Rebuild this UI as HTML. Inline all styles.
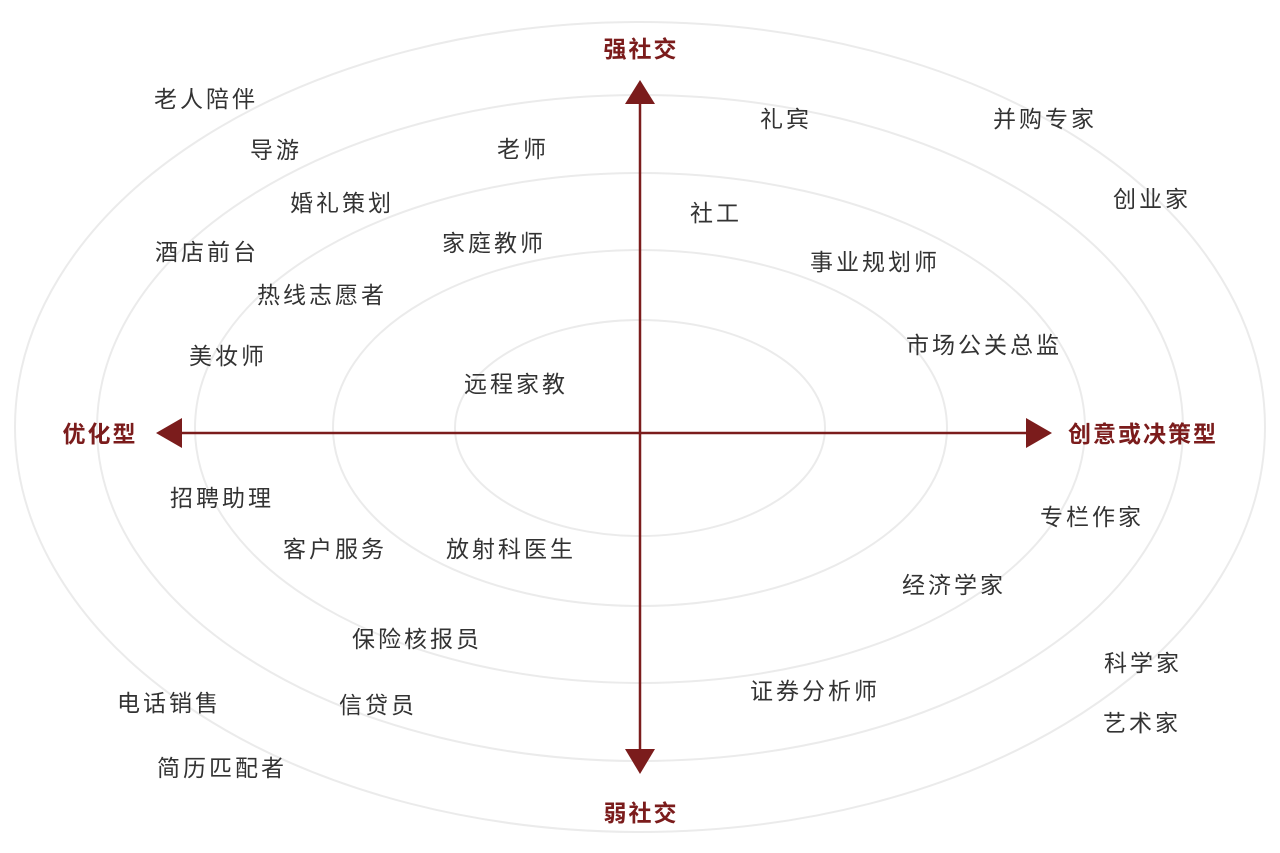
<!DOCTYPE html>
<html><head><meta charset="utf-8"><style>
html,body{margin:0;padding:0;background:#fff;width:1280px;height:853px;overflow:hidden}
svg text{font-family:"Liberation Sans","Noto Sans CJK SC",sans-serif}
</style></head><body>
<svg width="1280" height="853" viewBox="0 0 1280 853" xmlns="http://www.w3.org/2000/svg">
<g fill="none" stroke="#ebebeb" stroke-width="2">
<ellipse cx="640" cy="427" rx="625" ry="405"/>
<ellipse cx="640" cy="428" rx="543" ry="333"/>
<ellipse cx="640" cy="428" rx="445" ry="255"/>
<ellipse cx="640" cy="428" rx="307" ry="178"/>
<ellipse cx="640" cy="428" rx="185" ry="108"/>
</g>
<g stroke="#7b1c1c" stroke-width="2.5">
<line x1="640" y1="100" x2="640" y2="755"/>
<line x1="175" y1="433" x2="1035" y2="433"/>
</g>
<g fill="#7b1c1c">
<polygon points="640,80 625,104 655,104"/>
<polygon points="640,774 625,749 655,749"/>
<polygon points="156,433 182,418 182,448"/>
<polygon points="1052,433 1026,418 1026,448"/>
</g>
<g fill="#7b1c1c" font-size="23" font-weight="bold" text-anchor="middle" letter-spacing="2">
<text x="641" y="57">强社交</text>
<text x="641" y="821">弱社交</text>
<text x="100" y="442">优化型</text>
<text x="1143" y="442">创意或决策型</text>
</g>
<g fill="#333" font-size="23" text-anchor="middle" letter-spacing="3">
<text x="206" y="107">老人陪伴</text>
<text x="276" y="158">导游</text>
<text x="523" y="157">老师</text>
<text x="342" y="211">婚礼策划</text>
<text x="207" y="260">酒店前台</text>
<text x="494" y="251">家庭教师</text>
<text x="322" y="303">热线志愿者</text>
<text x="228" y="364">美妆师</text>
<text x="516" y="392">远程家教</text>
<text x="786" y="127">礼宾</text>
<text x="1045" y="127">并购专家</text>
<text x="1152" y="207">创业家</text>
<text x="716" y="221">社工</text>
<text x="875" y="270">事业规划师</text>
<text x="984" y="353">市场公关总监</text>
<text x="222" y="506">招聘助理</text>
<text x="335" y="557">客户服务</text>
<text x="511" y="557">放射科医生</text>
<text x="1092" y="525">专栏作家</text>
<text x="954" y="593">经济学家</text>
<text x="417" y="647">保险核报员</text>
<text x="169" y="711">电话销售</text>
<text x="378" y="713">信贷员</text>
<text x="222" y="776">简历匹配者</text>
<text x="815" y="699">证券分析师</text>
<text x="1143" y="671">科学家</text>
<text x="1142" y="731">艺术家</text>
</g>
</svg>
</body></html>
